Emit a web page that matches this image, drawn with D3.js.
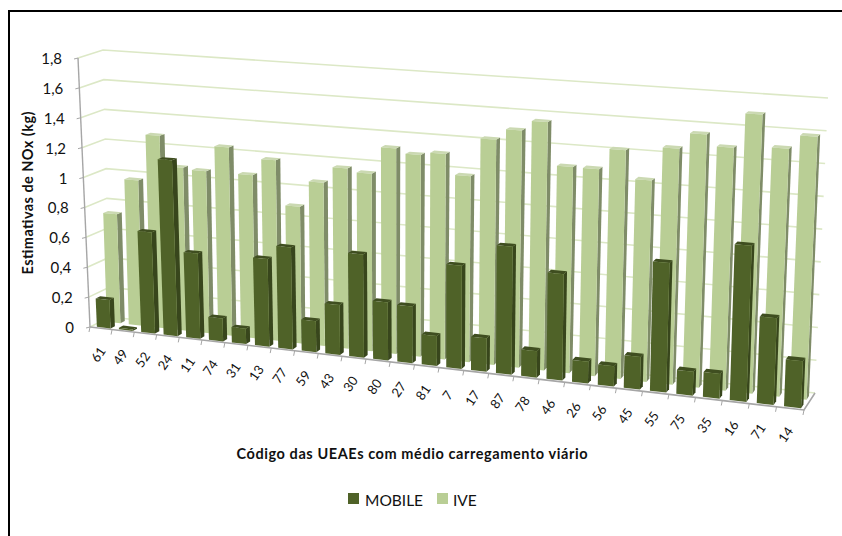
<!DOCTYPE html>
<html><head><meta charset="utf-8">
<script src="https://cdn.jsdelivr.net/npm/d3@7"></script>
<style>html,body{margin:0;padding:0;background:#fff}svg{display:block}text{font-family:Lato,"Open Sans",sans-serif;fill:#111}</style>
</head><body><svg id="c" width="842" height="536"></svg>
<script>
const categories=["61","49","52","24","11","74","31","13","77","59","43","30","80","27","81","7","17","87","78","46","26","56","45","55","75","35","16","71","14"];
const mobile=[0.19,0.01,0.67,1.16,0.56,0.15,0.10,0.57,0.66,0.20,0.32,0.66,0.37,0.36,0.19,0.65,0.21,0.80,0.165,0.66,0.135,0.125,0.20,0.79,0.145,0.15,0.94,0.52,0.28];
const ive=[0.73,0.97,1.28,1.08,1.07,1.24,1.07,1.18,0.89,1.06,1.165,1.145,1.32,1.29,1.31,1.18,1.425,1.495,1.56,1.29,1.29,1.42,1.245,1.455,1.555,1.485,1.70,1.505,1.59];
const yTicks=[0,0.2,0.4,0.6,0.8,1,1.2,1.4,1.6,1.8];
const yLabels=["0","0,2","0,4","0,6","0,8","1","1,2","1,4","1,6","1,8"];
const seriesNames=["MOBILE","IVE"];
const colors={MOBILE:{front:"#4F6228",side:"#38461C",top:"#3F4E20"},IVE:{front:"#B9CE95",side:"#7F8C68",top:"#CBD9B2"}};

const svg=d3.select("#c");
// frame
svg.append("rect").attr("x",8).attr("y",10).attr("width",834).attr("height",2).attr("fill","#000");
svg.append("rect").attr("x",8).attr("y",10).attr("width",2).attr("height",526).attr("fill","#000");

// box corners of the 3-D plot
const FL0=[90,327],FL1=[78,58],BL0=[110,317],BL1=[103,50],FR0=[804,410],FR1=[816,108],BR0=[815,393],BR1=[828,98];
const mix=(a,b,k)=>[a[0]+(b[0]-a[0])*k,a[1]+(b[1]-a[1])*k];
const yS=d3.scaleLinear().domain([0,1.8]).range([0,1]);
const band=d3.scaleBand().domain(categories).range([0,1]);
const w=1.12;
const warp=t=>t/(t+w*(1-t));
function P(t,d,v){
  const u=warp(t),k=yS(v);
  const f=mix(mix(FL0,FR0,u),mix(FL1,FR1,u),k);
  const b=mix(mix(BL0,BR0,u),mix(BL1,BR1,u),k);
  return mix(f,b,d);
}
const line=d3.line();
// walls gridlines
yTicks.forEach(v=>{
  svg.append("path").attr("d",line([P(0,0,v),P(0,1,v),P(1,1,v)])).attr("fill","none").attr("stroke","#DCE8C6").attr("stroke-width",1.6);
});
// axes
svg.append("path").attr("d",line([P(0,0,0),P(0,0,1.8)])).attr("stroke","#A6A6A6").attr("stroke-width",1.4).attr("fill","none");
yTicks.forEach((v,i)=>{
  const p=P(0,0,v);
  svg.append("path").attr("d",line([p,[p[0]-4,p[1]+1]])).attr("stroke","#A6A6A6").attr("fill","none");
  svg.append("text").attr("x",p[0]-16).attr("y",p[1]).attr("text-anchor","end").attr("dominant-baseline","central").attr("font-size",15).text(yLabels[i]);
});
// floor edges
svg.append("path").attr("d",line([P(0,0,0),P(1,0,0),P(1,1,0)])).attr("stroke","#A6A6A6").attr("stroke-width",1.6).attr("fill","none");
const edges=categories.map(c=>band(c)).concat([1]);
edges.forEach(t=>{
  const p=P(t,0,0);
  svg.append("path").attr("d",line([p,[p[0]-1,p[1]+5]])).attr("stroke","#A6A6A6").attr("fill","none");
});
// bars
function bars(vals,cfg,name){
  const col=colors[name],g=svg.append("g");
  categories.forEach((c,i)=>{
    const v=vals[i],t0=band(c)+band.bandwidth()*0.24,t1=band(c)+band.bandwidth()*0.86,d0=cfg[0],d1=cfg[1];
    g.append("path").attr("fill",col.side).attr("d",line([P(t1,d0,0),P(t1,d1,0),P(t1,d1,v),P(t1,d0,v)])+"Z");
    g.append("path").attr("fill",col.top).attr("d",line([P(t0,d0,v),P(t1,d0,v),P(t1,d1,v),P(t0,d1,v)])+"Z");
    g.append("path").attr("fill",col.front).attr("d",line([P(t0,d0,0),P(t1,d0,0),P(t1,d0,v),P(t0,d0,v)])+"Z");
  });
}
bars(ive,[0.58,0.8],"IVE");
bars(mobile,[0.08,0.3],"MOBILE");
// category labels
categories.forEach(c=>{
  const p=P(band(c)+band.bandwidth()/2,0,0);
  const x=p[0]-3-2*band(c),y=p[1]+26;
  svg.append("text").attr("transform",`translate(${x},${y}) rotate(-55)`).attr("text-anchor","middle").attr("dominant-baseline","central").attr("font-size",13).text(c);
});
// titles
svg.append("text").attr("transform","translate(27,193) rotate(-90)").attr("text-anchor","middle").attr("dominant-baseline","central").attr("font-size",14.5).attr("font-weight",700).attr("textLength",163).text("Estimativas de NOx (kg)");
svg.append("text").attr("x",412).attr("y",453).attr("text-anchor","middle").attr("dominant-baseline","central").attr("font-size",14.5).attr("font-weight",700).attr("textLength",351).text("Código das UEAEs com médio carregamento viário");
// legend
[[348,365],[437,453]].forEach((p,i)=>{
  svg.append("rect").attr("x",p[0]).attr("y",493).attr("width",11).attr("height",11).attr("fill",colors[seriesNames[i]].front);
  svg.append("text").attr("x",p[1]).attr("y",500).attr("dominant-baseline","central").attr("font-size",15.5).text(seriesNames[i]);
});
</script></body></html>
